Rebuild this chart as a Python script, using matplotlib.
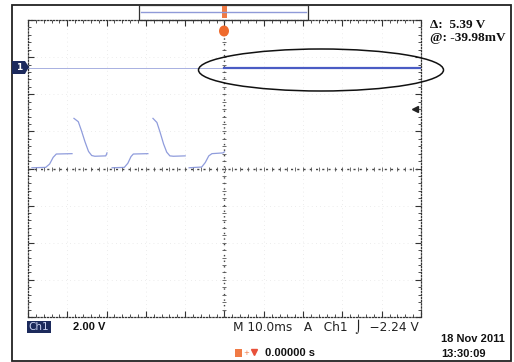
import numpy as np
import matplotlib
matplotlib.use('Agg')
import matplotlib.pyplot as plt
from matplotlib.patches import Rectangle, Ellipse, Polygon

# waveform on channel 1, in screen divisions (x: time div, y: volt div)
wave_x = [-4.90, -4.55, -4.45, -4.36, -4.28, -3.88, np.nan,
          -3.83, -3.72, -3.64, -3.55, -3.46, -3.38, -3.30, -3.02, -2.99, np.nan,
          -2.86, -2.55, -2.46, -2.38, -2.32, -1.95, np.nan,
          -1.82, -1.72, -1.64, -1.55, -1.47, -1.39, -1.30, -1.00, np.nan,
          -0.90, -0.58, -0.49, -0.40, -0.32, -0.04, 0.0]
wave_y = [0.02, 0.03, 0.12, 0.30, 0.39, 0.40, np.nan,
          1.35, 1.26, 1.02, 0.72, 0.46, 0.35, 0.33, 0.34, 0.42, np.nan,
          0.02, 0.03, 0.14, 0.32, 0.39, 0.40, np.nan,
          1.35, 1.24, 0.98, 0.66, 0.44, 0.34, 0.33, 0.34, np.nan,
          0.02, 0.04, 0.16, 0.34, 0.40, 0.42, 0.45]

# level after trigger (highlighted by the ellipse)
level_x = [0.0, 5.0]
level_y = [2.71, 2.71]
ref_x = [-5.0, 0.0]
ref_y = [2.71, 2.71]

delta_txt = 'Δ:  5.39 V'
at_txt = '@: -39.98mV'
scale_txt = '2.00 V'
time_txt = 'M 10.0ms   A   Ch1  ⌡  −2.24 V'
pos_txt = '0.00000 s'
date_txt = '18 Nov 2011'
clock_txt = '13:30:09'

fig = plt.figure(figsize=(5.14, 3.62), dpi=100)
fig.patch.set_facecolor('white')

# graticule
ax = fig.add_axes([28/514, 1-317/362, 393/514, 297/362])
ax.set_xlim(-5, 5)
ax.set_ylim(-4, 4)
ax.set_xticks(np.arange(-5, 5.1, 1))
ax.set_yticks(np.arange(-4, 4.1, 1))
ax.set_xticks(np.arange(-5, 5.01, 0.2), minor=True)
ax.set_yticks(np.arange(-4, 4.01, 0.2), minor=True)
ax.tick_params(which='both', direction='in', top=True, right=True,
               labelbottom=False, labelleft=False, color='#333')
ax.tick_params(which='major', length=4, width=0.8)
ax.tick_params(which='minor', length=2.5, width=0.6)
for s in ax.spines.values():
    s.set_linestyle((0, (1, 1.5)))
    s.set_color('#333')
    s.set_linewidth(0.9)
ax.grid(which='major', color='#e6e6e6', ls=(0, (1, 4)), lw=0.6)
ax.axhline(0, color='#444', ls=(0, (1.5, 3)), lw=1.0)
ax.axvline(0, color='#444', ls=(0, (1, 3)), lw=1.0)
tx = np.arange(-5, 5.01, 0.2)
ty = np.arange(-4, 4.01, 0.2)
ax.plot(tx, np.zeros_like(tx), ls='none', marker='|', ms=3, color='#555', mew=0.6)
ax.plot(np.zeros_like(ty), ty, ls='none', marker='_', ms=3, color='#555', mew=0.6)

ax.plot(ref_x, ref_y, color='#9aa4dc', lw=0.6)
ax.plot(level_x, level_y, color='#4a5cc4', lw=1.6)
ax.plot(wave_x, wave_y, color='#7c8bd6', lw=0.9, alpha=0.85)

# overlay in pixel coordinates
ov = fig.add_axes([0, 0, 1, 1], facecolor='none')
ov.set_xlim(0, 514)
ov.set_ylim(362, 0)
ov.axis('off')

ov.add_patch(Rectangle((12, 5), 499, 356, fill=False, ec='#222', lw=1.3))
ov.add_patch(Rectangle((139, 5), 169, 15, fill=False, ec='#333', lw=0.9))
ov.plot([141, 306], [11.5, 11.5], color='#8f9ad8', lw=1.0)

# trigger position marker
ov.add_patch(Rectangle((221.5, 6), 5, 12, color='#f07a45', lw=0))
ov.add_patch(Ellipse((224, 31), 10, 11, color='#ef6a2c', lw=0))

ov.add_patch(Ellipse((321, 70), 245, 42, fill=False, ec='#111', lw=1.1))

# channel 1 ground marker
ov.add_patch(Polygon([[12, 61], [25, 61], [29, 67], [25, 74], [12, 74]],
                     closed=True, color='#1c2a5c', lw=0))
ov.text(19, 67.5, '1', color='white', fontsize=6.5, fontweight='bold',
        ha='center', va='center')

# trigger level arrow
ov.plot([414.5], [108.5], marker='<', ms=5, color='#222', ls='none')

ov.text(430, 25, delta_txt, family='Liberation Serif', fontweight='bold',
        fontsize=9.5, va='center', ha='left', color='#111')
ov.text(430, 38, at_txt, family='Liberation Serif', fontweight='bold',
        fontsize=9.5, va='center', ha='left', color='#111')

ov.add_patch(Rectangle((27, 321), 24, 12, color='#1c2a5c', lw=0))
ov.text(39, 327.5, 'Ch1', color='#c8d0f0', fontsize=7.5, ha='center',
        va='center')
ov.text(73, 327, scale_txt, family='Liberation Sans', fontweight='bold',
        fontsize=8, va='center', ha='left', color='#111')
ov.text(233, 327, time_txt, fontsize=8.7, va='center', ha='left', color='#222')

ov.add_patch(Rectangle((235, 349), 7, 8, color='#f07a45', lw=0))
ov.text(243, 353, '+', color='#f07a45', fontsize=5, va='center', ha='left')
ov.plot([254], [352], marker='v', ms=4, color='#e8503a', ls='none')
ov.text(265, 353, pos_txt, family='Liberation Sans', fontweight='bold',
        fontsize=8, va='center', ha='left', color='#111')

ov.text(441, 339, date_txt, family='Liberation Sans', fontweight='bold',
        fontsize=8, va='center', ha='left', color='#111')
ov.text(441, 354, clock_txt, family='Liberation Sans', fontweight='bold',
        fontsize=8, va='center', ha='left', color='#111')

fig.savefig('out.png', dpi=100)
